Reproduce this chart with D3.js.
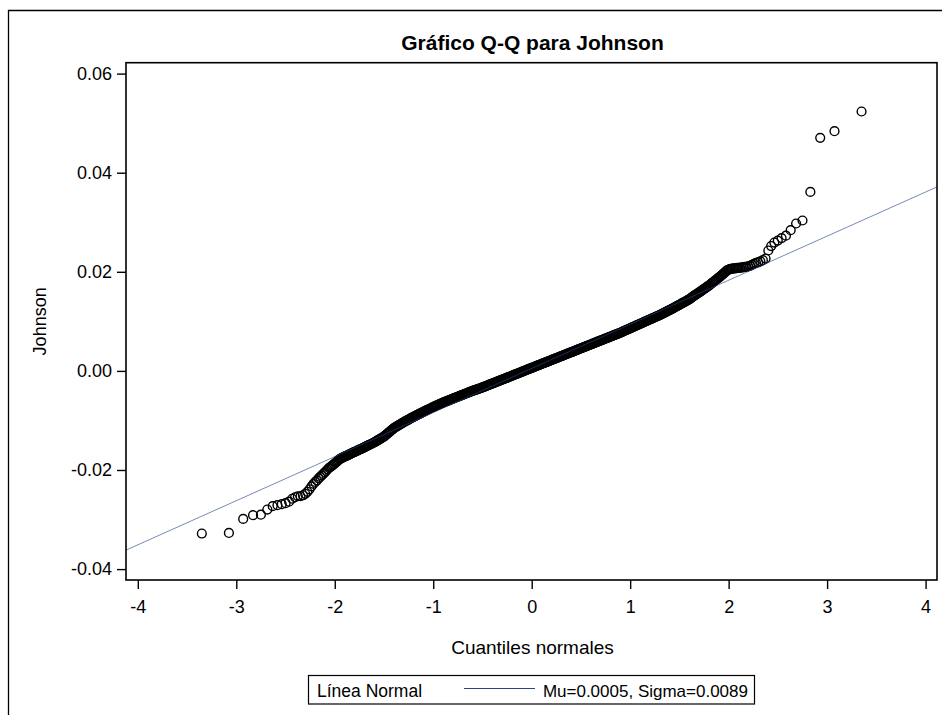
<!DOCTYPE html>
<html>
<head>
<meta charset="utf-8">
<script src="https://cdn.jsdelivr.net/npm/d3@7"></script>
<style>
  html, body { margin: 0; padding: 0; background: #fff; }
  svg text { font-family: "Liberation Sans", Arial, Helvetica, sans-serif; fill: #000; }
</style>
</head>
<body>
<svg id="chart" width="942" height="715"></svg>
<script>
// ---- text ----
const chartTitle = "Gráfico Q-Q para Johnson";
const xTitle = "Cuantiles normales";
const yTitle = "Johnson";
const legendLabel = "Línea Normal";
const legendText = "Mu=0.0005, Sigma=0.0089";

// ---- tick labels ----
const xTicks = [-4, -3, -2, -1, 0, 1, 2, 3, 4];
const yTicks = [-0.04, -0.02, 0.00, 0.02, 0.04, 0.06];

// ---- reference normal line ----
const normalMu = 0.0005;
const normalSigma = 0.0089;

// ---- lower tail: normal quantile / observed value ----
const lowerQ = [-3.350,-3.075,-2.930,-2.830,-2.750,-2.685,-2.630,-2.582,-2.538,-2.499,
  -2.464,-2.432,-2.403,-2.375,-2.348,-2.323,-2.300,-2.278,-2.257,-2.236,
  -2.217,-2.198,-2.181,-2.164,-2.148,-2.132,-2.117,-2.102,-2.088,-2.074,
  -2.060,-2.046,-2.033,-2.020,-2.008,-1.996,-1.984,-1.973,-1.962,-1.950];
const lowerV = [-0.03282,-0.03270,-0.02987,-0.02912,-0.02902,-0.02798,-0.02730,-0.02710,-0.02690,-0.02670,
  -0.02640,-0.02580,-0.02550,-0.02530,-0.02530,-0.02510,-0.02480,-0.02440,-0.02390,-0.02330,
  -0.02280,-0.02240,-0.02210,-0.02170,-0.02140,-0.02110,-0.02080,-0.02050,-0.02020,-0.01990,
  -0.01960,-0.01940,-0.01920,-0.01900,-0.01880,-0.01860,-0.01840,-0.01820,-0.01800,-0.01780];

// ---- central body ----
const bandQ = [-1.94,-1.93,-1.92,-1.91,
  -1.90,-1.89,-1.88,-1.87,-1.86,-1.85,-1.84,-1.83,-1.82,-1.81,
  -1.80,-1.79,-1.78,-1.77,-1.76,-1.75,-1.74,-1.73,-1.72,-1.71,
  -1.70,-1.69,-1.68,-1.67,-1.66,-1.65,-1.64,-1.63,-1.62,-1.61,
  -1.60,-1.59,-1.58,-1.57,-1.56,-1.55,-1.54,-1.53,-1.52,-1.51,
  -1.50,-1.49,-1.48,-1.47,-1.46,-1.45,-1.44,-1.43,-1.42,-1.41,
  -1.40,-1.39,-1.38,-1.37,-1.36,-1.35,-1.34,-1.33,-1.32,-1.31,
  -1.30,-1.29,-1.28,-1.27,-1.26,-1.25,-1.24,-1.23,-1.22,-1.21,
  -1.20,-1.19,-1.18,-1.17,-1.16,-1.15,-1.14,-1.13,-1.12,-1.11,
  -1.10,-1.09,-1.08,-1.07,-1.06,-1.05,-1.04,-1.03,-1.02,-1.01,
  -1.00,-0.99,-0.98,-0.97,-0.96,-0.95,-0.94,-0.93,-0.92,-0.91,
  -0.90,-0.89,-0.88,-0.87,-0.86,-0.85,-0.84,-0.83,-0.82,-0.81,
  -0.80,-0.79,-0.78,-0.77,-0.76,-0.75,-0.74,-0.73,-0.72,-0.71,
  -0.70,-0.69,-0.68,-0.67,-0.66,-0.65,-0.64,-0.63,-0.62,-0.61,
  -0.60,-0.59,-0.58,-0.57,-0.56,-0.55,-0.54,-0.53,-0.52,-0.51,
  -0.50,-0.49,-0.48,-0.47,-0.46,-0.45,-0.44,-0.43,-0.42,-0.41,
  -0.40,-0.39,-0.38,-0.37,-0.36,-0.35,-0.34,-0.33,-0.32,-0.31,
  -0.30,-0.29,-0.28,-0.27,-0.26,-0.25,-0.24,-0.23,-0.22,-0.21,
  -0.20,-0.19,-0.18,-0.17,-0.16,-0.15,-0.14,-0.13,-0.12,-0.11,
  -0.10,-0.09,-0.08,-0.07,-0.06,-0.05,-0.04,-0.03,-0.02,-0.01,
  0.00,0.01,0.02,0.03,0.04,0.05,0.06,0.07,0.08,0.09,
  0.10,0.11,0.12,0.13,0.14,0.15,0.16,0.17,0.18,0.19,
  0.20,0.21,0.22,0.23,0.24,0.25,0.26,0.27,0.28,0.29,
  0.30,0.31,0.32,0.33,0.34,0.35,0.36,0.37,0.38,0.39,
  0.40,0.41,0.42,0.43,0.44,0.45,0.46,0.47,0.48,0.49,
  0.50,0.51,0.52,0.53,0.54,0.55,0.56,0.57,0.58,0.59,
  0.60,0.61,0.62,0.63,0.64,0.65,0.66,0.67,0.68,0.69,
  0.70,0.71,0.72,0.73,0.74,0.75,0.76,0.77,0.78,0.79,
  0.80,0.81,0.82,0.83,0.84,0.85,0.86,0.87,0.88,0.89,
  0.90,0.91,0.92,0.93,0.94,0.95,0.96,0.97,0.98,0.99,
  1.00,1.01,1.02,1.03,1.04,1.05,1.06,1.07,1.08,1.09,
  1.10,1.11,1.12,1.13,1.14,1.15,1.16,1.17,1.18,1.19,
  1.20,1.21,1.22,1.23,1.24,1.25,1.26,1.27,1.28,1.29,
  1.30,1.31,1.32,1.33,1.34,1.35,1.36,1.37,1.38,1.39,
  1.40,1.41,1.42,1.43,1.44,1.45,1.46,1.47,1.48,1.49,
  1.50,1.51,1.52,1.53,1.54,1.55,1.56,1.57,1.58,1.59,
  1.60,1.61,1.62,1.63,1.64,1.65,1.66,1.67,1.68,1.69,
  1.70,1.71,1.72,1.73,1.74,1.75,1.76,1.77,1.78,1.79,
  1.80,1.81,1.82,1.83,1.84,1.85,1.86,1.87,1.88,1.89,
  1.90,1.91,1.92,1.93,1.94];
const bandV = [-0.01770,-0.01760,-0.01751,-0.01741,
  -0.01732,-0.01722,-0.01713,-0.01703,-0.01694,-0.01684,-0.01675,-0.01665,-0.01656,-0.01646,
  -0.01637,-0.01628,-0.01618,-0.01609,-0.01600,-0.01590,-0.01581,-0.01572,-0.01563,-0.01553,
  -0.01544,-0.01534,-0.01524,-0.01514,-0.01504,-0.01494,-0.01485,-0.01475,-0.01465,-0.01455,
  -0.01445,-0.01433,-0.01421,-0.01409,-0.01397,-0.01385,-0.01373,-0.01361,-0.01349,-0.01337,
  -0.01325,-0.01308,-0.01291,-0.01274,-0.01257,-0.01240,-0.01224,-0.01207,-0.01190,-0.01173,
  -0.01156,-0.01144,-0.01132,-0.01120,-0.01108,-0.01096,-0.01084,-0.01072,-0.01060,-0.01048,
  -0.01036,-0.01025,-0.01015,-0.01004,-0.00993,-0.00982,-0.00971,-0.00960,-0.00949,-0.00938,
  -0.00927,-0.00917,-0.00907,-0.00897,-0.00888,-0.00878,-0.00868,-0.00858,-0.00848,-0.00838,
  -0.00828,-0.00818,-0.00808,-0.00798,-0.00788,-0.00779,-0.00769,-0.00759,-0.00749,-0.00739,
  -0.00729,-0.00720,-0.00711,-0.00702,-0.00693,-0.00684,-0.00676,-0.00667,-0.00658,-0.00649,
  -0.00640,-0.00632,-0.00624,-0.00616,-0.00608,-0.00600,-0.00593,-0.00585,-0.00577,-0.00569,
  -0.00561,-0.00553,-0.00545,-0.00537,-0.00529,-0.00522,-0.00514,-0.00506,-0.00498,-0.00490,
  -0.00482,-0.00474,-0.00466,-0.00458,-0.00451,-0.00443,-0.00435,-0.00427,-0.00419,-0.00411,
  -0.00403,-0.00396,-0.00389,-0.00383,-0.00376,-0.00369,-0.00362,-0.00355,-0.00348,-0.00341,
  -0.00334,-0.00327,-0.00319,-0.00311,-0.00303,-0.00295,-0.00287,-0.00279,-0.00271,-0.00263,
  -0.00256,-0.00248,-0.00240,-0.00232,-0.00224,-0.00216,-0.00208,-0.00200,-0.00192,-0.00185,
  -0.00177,-0.00169,-0.00161,-0.00153,-0.00145,-0.00137,-0.00129,-0.00121,-0.00114,-0.00106,
  -0.00098,-0.00090,-0.00082,-0.00074,-0.00066,-0.00058,-0.00050,-0.00043,-0.00035,-0.00027,
  -0.00019,-0.00011,-0.00003,0.00005,0.00013,0.00021,0.00029,0.00036,0.00044,0.00052,
  0.00060,0.00068,0.00076,0.00084,0.00092,0.00100,0.00107,0.00115,0.00123,0.00131,
  0.00139,0.00147,0.00155,0.00163,0.00171,0.00178,0.00186,0.00194,0.00202,0.00210,
  0.00218,0.00226,0.00234,0.00242,0.00249,0.00257,0.00265,0.00273,0.00281,0.00289,
  0.00297,0.00305,0.00313,0.00320,0.00328,0.00336,0.00344,0.00352,0.00360,0.00368,
  0.00376,0.00384,0.00391,0.00399,0.00407,0.00415,0.00423,0.00431,0.00439,0.00447,
  0.00455,0.00462,0.00470,0.00478,0.00486,0.00494,0.00502,0.00510,0.00518,0.00526,
  0.00533,0.00541,0.00549,0.00557,0.00565,0.00573,0.00581,0.00589,0.00597,0.00604,
  0.00612,0.00620,0.00628,0.00636,0.00644,0.00652,0.00660,0.00668,0.00675,0.00683,
  0.00691,0.00699,0.00707,0.00715,0.00723,0.00731,0.00739,0.00747,0.00754,0.00762,
  0.00770,0.00779,0.00788,0.00797,0.00806,0.00815,0.00824,0.00833,0.00841,0.00850,
  0.00859,0.00868,0.00877,0.00886,0.00895,0.00904,0.00913,0.00922,0.00930,0.00939,
  0.00948,0.00957,0.00966,0.00975,0.00984,0.00993,0.01002,0.01011,0.01019,0.01028,
  0.01037,0.01046,0.01055,0.01064,0.01073,0.01082,0.01091,0.01100,0.01108,0.01117,
  0.01126,0.01136,0.01146,0.01156,0.01166,0.01176,0.01186,0.01196,0.01205,0.01215,
  0.01225,0.01236,0.01247,0.01258,0.01269,0.01280,0.01291,0.01302,0.01313,0.01324,
  0.01334,0.01345,0.01356,0.01367,0.01378,0.01389,0.01400,0.01411,0.01422,0.01433,
  0.01444,0.01459,0.01474,0.01489,0.01504,0.01519,0.01531,0.01544,0.01557,0.01570,
  0.01583,0.01597,0.01611,0.01625,0.01639,0.01653,0.01667,0.01681,0.01695,0.01709,
  0.01723,0.01739,0.01755,0.01771,0.01787,0.01803,0.01819,0.01835,0.01850,0.01866,
  0.01882,0.01899,0.01915,0.01932,0.01948];

// ---- upper tail ----
const upperQ = [1.950,1.962,1.973,1.984,1.996,2.008,2.020,2.033,2.046,2.060,
  2.074,2.088,2.102,2.117,2.132,2.148,2.164,2.181,2.198,2.217,
  2.236,2.257,2.278,2.300,2.323,2.348,2.375,2.403,2.432,2.464,
  2.499,2.538,2.582,2.630,2.685,2.750,2.830,2.930,3.075,3.350];
const upperV = [0.01970,0.01990,0.02010,0.02030,0.02040,0.02050,0.02060,0.02060,0.02070,0.02070,
  0.02070,0.02080,0.02080,0.02080,0.02090,0.02090,0.02100,0.02100,0.02110,0.02120,
  0.02140,0.02160,0.02180,0.02190,0.02210,0.02234,0.02268,0.02430,0.02520,0.02590,
  0.02630,0.02680,0.02730,0.02840,0.02975,0.03035,0.03613,0.04703,0.04838,0.05235];

const points = [
  ...d3.zip(lowerQ, lowerV),
  ...d3.zip(bandQ, bandV),
  ...d3.zip(upperQ, upperV)
].map(([q, v]) => ({ q, v }));

// ---- layout ----
const svg = d3.select("#chart");
const plot = { left: 126, top: 62.7, right: 937, bottom: 580 };

const x = d3.scaleLinear().domain([-4.12, 4.116]).range([plot.left, plot.right]);
const y = d3.scaleLinear().domain([-0.0422, 0.0622]).range([plot.bottom, plot.top]);

const fontFamily = '"Liberation Sans", Arial, Helvetica, sans-serif';

// outer panel border (continues past the right and bottom edges)
svg.append("path")
  .attr("d", "M8.5,715 L8.5,10.5 L942,10.5")
  .attr("fill", "none")
  .attr("stroke", "#000")
  .attr("stroke-width", 1.3);

// title
svg.append("text")
  .attr("x", (plot.left + plot.right) / 2 + 1)
  .attr("y", 50)
  .attr("text-anchor", "middle")
  .attr("font-size", 21)
  .attr("font-weight", "bold")
  .text(chartTitle);

// clip for marks
svg.append("clipPath").attr("id", "plot-clip")
  .append("rect")
  .attr("x", plot.left).attr("y", plot.top)
  .attr("width", plot.right - plot.left).attr("height", plot.bottom - plot.top);

const marks = svg.append("g").attr("clip-path", "url(#plot-clip)");

// observed points
marks.append("g")
  .selectAll("circle")
  .data(points)
  .join("circle")
  .attr("cx", d => x(d.q))
  .attr("cy", d => y(d.v))
  .attr("r", 4.4)
  .attr("fill", "none")
  .attr("stroke", "#000")
  .attr("stroke-width", 1.4);

// normal reference line
const lineColor = "#27458a";
const lineEnds = x.domain();
marks.append("path")
  .datum(lineEnds)
  .attr("d", d3.line().x(q => x(q)).y(q => y(normalMu + normalSigma * q)))
  .attr("fill", "none")
  .attr("stroke", lineColor)
  .attr("stroke-opacity", 0.7)
  .attr("stroke-width", 0.9);

// plot frame
svg.append("rect")
  .attr("x", plot.left).attr("y", plot.top)
  .attr("width", plot.right - plot.left).attr("height", plot.bottom - plot.top)
  .attr("fill", "none")
  .attr("stroke", "#000")
  .attr("stroke-width", 1.6);

// y axis
const yAxis = d3.axisLeft(y)
  .tickValues(yTicks)
  .tickFormat(d => d.toFixed(2))
  .tickSize(9)
  .tickPadding(5);
svg.append("g")
  .attr("transform", `translate(${plot.left},0)`)
  .call(yAxis)
  .call(g => g.select(".domain").remove())
  .call(g => g.selectAll(".tick line").attr("stroke", "#000").attr("stroke-width", 1.4))
  .call(g => g.selectAll(".tick text").attr("fill", "#000"))
  .attr("font-size", 18)
  .attr("font-family", fontFamily);

// x axis
const xAxis = d3.axisBottom(x)
  .tickValues(xTicks)
  .tickFormat(d => String(d))
  .tickSize(9)
  .tickPadding(11);
svg.append("g")
  .attr("transform", `translate(0,${plot.bottom})`)
  .call(xAxis)
  .call(g => g.select(".domain").remove())
  .call(g => g.selectAll(".tick line").attr("stroke", "#000").attr("stroke-width", 1.4))
  .call(g => g.selectAll(".tick text").attr("fill", "#000"))
  .attr("font-size", 18)
  .attr("font-family", fontFamily);

// axis titles
svg.append("text")
  .attr("x", (plot.left + plot.right) / 2 + 1)
  .attr("y", 654)
  .attr("text-anchor", "middle")
  .attr("font-size", 19)
  .text(xTitle);

svg.append("text")
  .attr("transform", `translate(46,${(plot.top + plot.bottom) / 2}) rotate(-90)`)
  .attr("text-anchor", "middle")
  .attr("font-size", 18)
  .text(yTitle);

// legend
const legend = svg.append("g");
legend.append("rect")
  .attr("x", 308.5).attr("y", 675.5)
  .attr("width", 446).attr("height", 28.5)
  .attr("fill", "#fff")
  .attr("stroke", "#000")
  .attr("stroke-width", 1.2);
legend.append("text")
  .attr("x", 317).attr("y", 697)
  .attr("font-size", 17.5)
  .text(legendLabel);
legend.append("line")
  .attr("x1", 464).attr("x2", 535)
  .attr("y1", 688.5).attr("y2", 688.5)
  .attr("stroke", lineColor)
  .attr("stroke-width", 1);
legend.append("text")
  .attr("x", 748).attr("y", 697)
  .attr("text-anchor", "end")
  .attr("font-size", 17)
  .text(legendText);
</script>
</body>
</html>
